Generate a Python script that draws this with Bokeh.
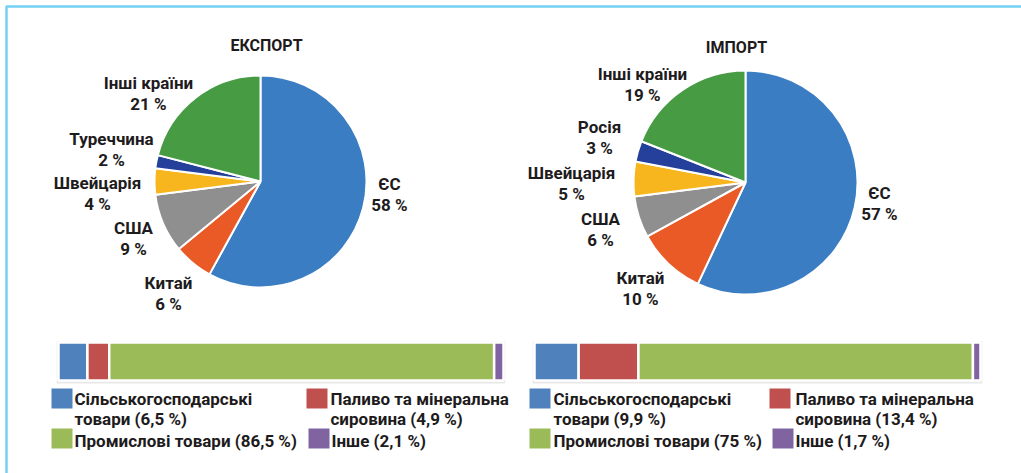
import numpy as np
from bokeh.plotting import figure
from bokeh.models import Range1d
from bokeh.core.properties import value
from bokeh.embed import file_html
from bokeh.resources import INLINE

# ---------------- data ----------------
titles = ["ЕКСПОРТ", "ІМПОРТ"]
exp_countries = ["ЄС", "Китай", "США", "Швейцарія", "Туреччина", "Інші країни"]
exp_shares = [58, 6, 9, 4, 2, 21]
imp_countries = ["ЄС", "Китай", "США", "Швейцарія", "Росія", "Інші країни"]
imp_shares = [57, 10, 6, 5, 3, 19]

goods_lines = [["Сільськогосподарські", "товари"], ["Паливо та мінеральна", "сировина"],
               ["Промислові товари"], ["Інше"]]
exp_goods = [6.5, 4.9, 86.5, 2.1]
imp_goods = [9.9, 13.4, 75, 1.7]
exp_goods_txt = ["6,5", "4,9", "86,5", "2,1"]
imp_goods_txt = ["9,9", "13,4", "75", "1,7"]

# ---------------- styles ----------------
slice_colors = ["#3a7dc2", "#e95a26", "#8f8f8f", "#f7b61d", "#25409a", "#469b43"]
goods_colors = ["#4f81bd", "#c0504d", "#9bbb59", "#8064a2"]
FONT = "Roboto"
TXT = "#1e1b1c"
W, H = 1021, 473

def Y(v):
    return H - v

p = figure(width=W, height=H, x_range=Range1d(0, W), y_range=Range1d(0, H),
           output_backend="svg", toolbar_location=None, min_border=0,
           x_axis_type=None, y_axis_type=None)
p.grid.visible = False
p.outline_line_color = None
p.background_fill_color = "white"

# frame border
p.line(x=[6, 6, W], y=[Y(H), Y(6), Y(6)], line_color="#74d0f4", line_width=2.5)

def txt(xs, ys, texts, align="center", size="17px"):
    p.text(x=xs, y=[Y(v) for v in ys], text=texts, text_align=align, text_baseline="middle",
           text_font=value(FONT), text_font_size=size, text_font_style="bold", text_color=TXT)

def pie(cx, cy, r, shares):
    frac = np.array(shares, dtype=float) / sum(shares)
    cum = np.concatenate([[0.0], np.cumsum(frac)])
    start = np.pi / 2 - cum[:-1] * 2 * np.pi
    end = np.pi / 2 - cum[1:] * 2 * np.pi
    p.wedge(x=cx, y=Y(cy), radius=r, start_angle=start, end_angle=end, direction="clock",
            fill_color=slice_colors, line_color="white", line_width=2)

# ---- export pie ----
pie(260, 181, 106, exp_shares)
exp_lx = [389, 168, 133, 97, 111, 148]
exp_ly = [183, 282, 227, 182, 138, 82]
txt(exp_lx, exp_ly, exp_countries)
txt(exp_lx, [v + 21 for v in exp_ly], [f"{s} %" for s in exp_shares])
txt([266], [45], [titles[0]], size="16px")

# ---- import pie ----
pie(745, 182, 112, imp_shares)
imp_lx = [879, 640, 600, 571, 599, 642]
imp_ly = [192, 277, 218, 172, 126, 73]
txt(imp_lx, imp_ly, imp_countries)
txt(imp_lx, [v + 21 for v in imp_ly], [f"{s} %" for s in imp_shares])
txt([736], [47], [titles[1]], size="16px")

# ---- stacked bars (own scales mapping 0..100 to the bar span) ----
def bar(name, x0px, x1px, vals):
    k = (x1px - x0px) / 100.0
    start = -x0px / k
    end = start + W / k
    p.extra_x_ranges[name] = Range1d(start, end)
    cum = np.concatenate([[0.0], np.cumsum(vals)])
    # faint shadow
    p.quad(left=[-0.4], right=[100.4], bottom=[Y(383)], top=[Y(341)], x_range_name=name,
           fill_color="#e8e8e8", line_color=None)
    p.quad(left=cum[:-1], right=cum[1:], bottom=Y(380), top=Y(342), x_range_name=name,
           fill_color=goods_colors, line_color="white", line_width=2.5)

bar("barL", 58, 503, exp_goods)
bar("barR", 534, 980, imp_goods)

# ---- legends ----
def legend(sq_x, txt_x, vals_txt):
    rows = [(0, 398), (1, 398), (2, 438), (3, 438)]
    for (i, yy) in rows:
        sx = sq_x[i]
        p.quad(left=[sx], right=[sx + 21], bottom=[Y(yy + 10)], top=[Y(yy - 10)],
               fill_color=goods_colors[i], line_color=None)
        lines = goods_lines[i]
        if len(lines) == 2:
            txt([txt_x[i]], [yy], [lines[0]], align="left")
            txt([txt_x[i]], [yy + 20], [f"{lines[1]} ({vals_txt[i]} %)"], align="left")
        else:
            txt([txt_x[i]], [yy + 2], [f"{lines[0]} ({vals_txt[i]} %)"], align="left")

legend([51, 306, 51, 308], [74, 330, 74, 331], exp_goods_txt)
legend([529, 769, 529, 772], [553, 795, 553, 795], imp_goods_txt)

open("out.html", "w").write(file_html(p, INLINE))
